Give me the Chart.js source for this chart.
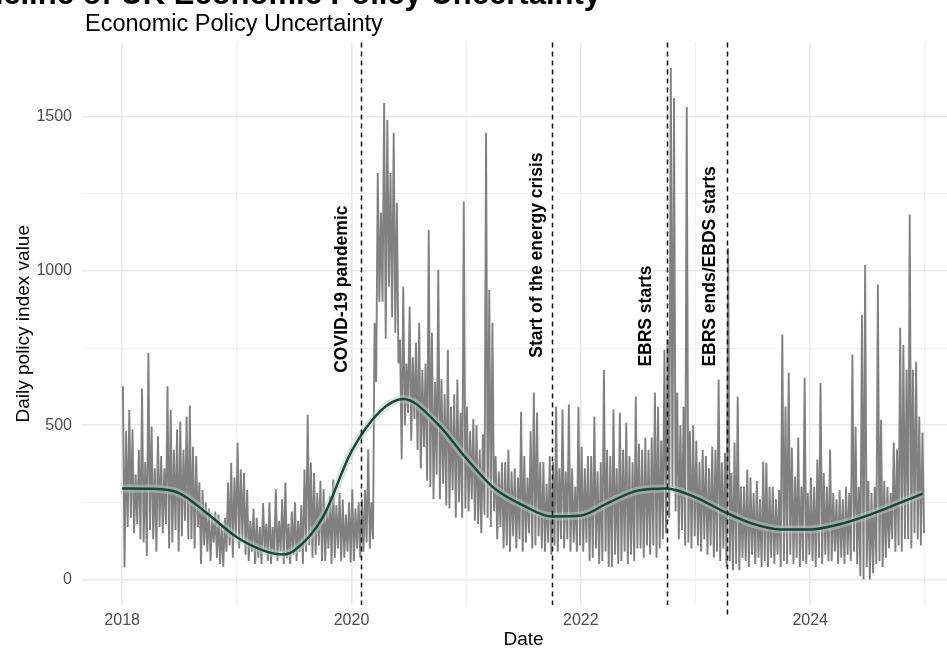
<!DOCTYPE html>
<html>
<head>
<meta charset="utf-8">
<script src="https://cdn.jsdelivr.net/npm/chart.js@4.4.1/dist/chart.umd.min.js"></script>
<style>
  html, body { margin: 0; padding: 0; background: #fff; overflow: hidden; width: 947px; height: 651px; }
  #wrap { position: absolute; left: 0; top: 0; width: 990px; height: 651px; }
</style>
</head>
<body>
<div id="wrap"><canvas id="epu" width="990" height="651"></canvas></div>
<script>
// Daily UK economic policy uncertainty index, six readings per month (about every five days)
const years = [2018, 2019, 2020, 2021, 2022, 2023, 2024];
const epu2018 = [
  626, 39, 480, 170, 550, 200,   486, 150, 340, 180, 420, 130,   619, 120, 380, 75, 735, 160,
  496, 130, 360, 90, 464, 170,   400, 150, 360, 180, 626, 100,   550, 120, 420, 160, 486, 90,
  512, 140, 420, 190, 528, 130,  564, 130, 430, 100, 400, 170,   314, 50, 290, 110, 250, 90,
  230, 60, 200, 120, 220, 70,    210, 50, 180, 40, 200, 90,      314, 110, 378, 70, 330, 140
];
const epu2019 = [
  444, 100, 356, 130, 346, 80,   290, 60, 190, 90, 230, 50,      200, 70, 170, 50, 248, 90,
  180, 60, 250, 50, 170, 80,     292, 60, 190, 90, 260, 50,      314, 70, 180, 50, 220, 80,
  250, 60, 190, 90, 240, 50,     356, 90, 534, 110, 379, 70,     346, 80, 280, 110, 320, 60,
  292, 60, 230, 100, 270, 50,    324, 70, 240, 100, 280, 60,     259, 70, 210, 90, 250, 55
];
const epu2020 = [
  292, 60, 230, 100, 250, 70,    260, 90, 290, 120, 421, 100,    250, 130, 832, 640, 1318, 900,
  1189, 900, 1545, 780, 1490, 950, 1318, 850, 1448, 800, 1221, 700, 777, 389, 949, 500, 700, 540,
  885, 450, 720, 520, 767, 420,  832, 360, 680, 430, 700, 320,   1134, 300, 800, 260, 640, 340,
  1004, 260, 650, 310, 600, 240, 745, 230, 560, 290, 600, 200,   648, 250, 540, 200, 1225, 230
];
const epu2021 = [
  560, 220, 480, 260, 520, 190,  500, 180, 420, 150, 470, 210,   1448, 200, 939, 170, 832, 220,
  400, 130, 350, 170, 380, 100,  380, 110, 420, 90, 350, 140,    360, 100, 330, 130, 544, 90,
  400, 120, 330, 150, 480, 100,  606, 110, 541, 140, 380, 100,   380, 90, 310, 120, 400, 80,
  380, 110, 561, 90, 360, 130,   551, 100, 350, 130, 567, 90,    360, 120, 300, 90, 560, 110
];
const epu2022 = [
  430, 90, 360, 120, 400, 60,    400, 70, 528, 100, 350, 50,     380, 60, 680, 90, 420, 40,
  400, 40, 551, 80, 360, 50,     541, 60, 420, 90, 508, 50,      400, 80, 380, 60, 593, 100,
  440, 100, 420, 70, 460, 110,   420, 80, 460, 110, 606, 70,     560, 100, 450, 130, 745, 150,
  777, 200, 1658, 300, 1561, 220, 606, 130, 500, 160, 560, 110,  1532, 120, 480, 100, 500, 140
];
const epu2023 = [
  450, 110, 380, 90, 420, 130,   400, 80, 360, 110, 430, 70,     420, 90, 648, 60, 380, 100,
  411, 40, 1075, 60, 346, 30,    444, 50, 593, 30, 300, 70,      300, 60, 356, 40, 330, 80,
  280, 50, 320, 70, 260, 40,     382, 60, 378, 40, 300, 70,      300, 50, 260, 80, 290, 40,
  794, 60, 561, 50, 670, 80,     427, 50, 334, 70, 460, 40,      300, 60, 654, 50, 280, 80
];
const epu2024 = [
  330, 60, 300, 40, 389, 70,     637, 50, 346, 80, 300, 60,      421, 60, 280, 90, 260, 50,
  290, 70, 260, 50, 300, 80,     280, 60, 729, 90, 496, 50,      300, 10, 858, 0, 1020, 40,
  320, 0, 280, 20, 300, 50,      956, 60, 518, 40, 320, 70,      300, 100, 280, 130, 444, 90,
  421, 110, 816, 90, 761, 130,   680, 130, 1183, 100, 680, 150,  706, 130, 528, 110, 476, 150
];

// Smoothed trend of the daily index
const smoothDates = [
  '2018-01-01', '2018-04-01', '2018-07-01', '2018-10-01', '2019-01-01', '2019-04-01', '2019-05-25',
  '2019-07-01', '2019-10-01', '2020-01-01', '2020-04-01', '2020-06-15', '2020-10-01', '2021-01-01',
  '2021-04-01', '2021-07-01', '2021-10-01', '2022-01-01', '2022-04-01', '2022-07-01', '2022-10-01',
  '2023-01-01', '2023-04-01', '2023-07-01', '2023-10-01', '2024-01-01', '2024-04-01', '2024-07-01',
  '2024-10-01', '2024-12-25'
];
const smoothValues = [
  295, 294, 280, 212, 137, 92, 81, 92, 200, 415, 545, 585, 505, 393,
  295, 240, 204, 207, 250, 288, 295, 266, 220, 181, 162, 162, 178, 207,
  243, 278
];

// Policy events marked on the timeline
const eventNames = ['COVID-19 pandemic', 'Start of the energy crisis', 'EBRS starts', 'EBRS ends/EBDS starts'];
const eventDates = ['2020-01-30', '2021-10-01', '2022-10-01', '2023-04-10'];

// Axis ticks
const gridYears = [2018, 2019, 2020, 2021, 2022, 2023, 2024, 2025];
const xTickLabels = [2018, 2020, 2022, 2024];
const gridValues = [0, 250, 500, 750, 1000, 1250, 1500];
const yTickLabels = [0, 500, 1000, 1500];

function toYear(s) {
  const d = new Date(s + 'T00:00:00Z');
  const y = d.getUTCFullYear();
  const start = Date.UTC(y, 0, 1), end = Date.UTC(y + 1, 0, 1);
  return y + (d.getTime() - start) / (end - start);
}

const FONT = "'Liberation Sans', Arial, Helvetica, sans-serif";
const yearSeries = [epu2018, epu2019, epu2020, epu2021, epu2022, epu2023, epu2024];
const daily = [];
yearSeries.forEach((vals, yi) => {
  vals.forEach((v, i) => daily.push({ x: years[yi] + (i + 0.5) / vals.length, y: v }));
});
const smooth = smoothDates.map((d, i) => ({ x: toYear(d), y: smoothValues[i] }));

const GRID_MAJOR = '#e9e9e9';
const GRID_MINOR = '#f1f1f1';

// Titles, event lines and their labels
const decorations = {
  id: 'decorations',
  afterDatasetsDraw(chart) {
    const { ctx, chartArea, scales: { x, y } } = chart;
    ctx.save();
    ctx.strokeStyle = '#111';
    ctx.lineWidth = 1.5;
    ctx.setLineDash([5, 4]);
    eventDates.forEach((d, i) => {
      const px = Math.round(x.getPixelForValue(toYear(d))) + 0.5;
      const bottom = i === eventDates.length - 1 ? chartArea.bottom + 10 : chartArea.bottom;
      ctx.beginPath();
      ctx.moveTo(px, chartArea.top);
      ctx.lineTo(px, bottom);
      ctx.stroke();
    });
    ctx.restore();

    // event labels, read bottom to top, left of each line
    const labelBase = [670, 719, 690, 690];
    const labelShift = [18, 15, 20, 16];
    ctx.save();
    ctx.fillStyle = '#000';
    ctx.font = 'bold 17.5px ' + FONT;
    ctx.textAlign = 'left';
    ctx.textBaseline = 'middle';
    eventDates.forEach((d, i) => {
      const px = x.getPixelForValue(toYear(d)) - labelShift[i];
      const py = y.getPixelForValue(labelBase[i]);
      ctx.save();
      ctx.translate(px, py);
      ctx.rotate(-Math.PI / 2);
      ctx.fillText(eventNames[i], 0, 0);
      ctx.restore();
    });
    ctx.restore();
  },
  afterDraw(chart) {
    const { ctx } = chart;
    ctx.save();
    ctx.fillStyle = '#000';
    ctx.textBaseline = 'alphabetic';
    ctx.font = 'bold 31px ' + FONT;
    ctx.textAlign = 'right';
    ctx.fillText('Timeline of UK Economic Policy Uncertainty', 601, 4);
    ctx.font = '23.5px ' + FONT;
    ctx.textAlign = 'left';
    ctx.fillText('Economic Policy Uncertainty', 85, 31);
    ctx.restore();
  }
};

new Chart(document.getElementById('epu'), {
  type: 'line',
  data: {
    datasets: [
      {
        label: 'Smoothed trend',
        data: smooth,
        borderColor: '#0e4b3b',
        borderWidth: 2.4,
        pointRadius: 0,
        cubicInterpolationMode: 'monotone',
        fill: false,
        order: 0
      },
      {
        label: 'Trend band',
        data: smooth,
        borderColor: 'rgba(200,200,200,0.5)',
        borderWidth: 8,
        pointRadius: 0,
        cubicInterpolationMode: 'monotone',
        fill: false,
        order: 1
      },
      {
        label: 'Daily policy index value',
        data: daily,
        borderColor: '#808080',
        borderWidth: 1.9,
        pointRadius: 0,
        tension: 0,
        fill: false,
        order: 2
      }
    ]
  },
  options: {
    responsive: false,
    animation: false,
    devicePixelRatio: 1,
    layout: { padding: { left: 0, right: 25, top: 42.5, bottom: 0 } },
    plugins: { legend: { display: false }, tooltip: { enabled: false } },
    scales: {
      x: {
        type: 'linear',
        min: 2017.65,
        max: 2025.35,
        afterBuildTicks: s => { s.ticks = gridYears.map(v => ({ value: v })); },
        afterFit: s => { s.height = 46; },
        border: { display: false },
        grid: {
          drawTicks: false,
          color: c => (c.tick && c.tick.value % 2 === 0) ? GRID_MAJOR : GRID_MINOR,
          lineWidth: c => (c.tick && c.tick.value % 2 === 0) ? 1.6 : 1.1
        },
        ticks: {
          autoSkip: false,
          maxRotation: 0,
          padding: 6,
          color: '#4d4d4d',
          font: { family: FONT, size: 16 },
          callback: v => xTickLabels.includes(v) ? String(v) : ''
        },
        title: {
          display: true,
          text: 'Date',
          color: '#000',
          font: { family: FONT, size: 19 },
          padding: { top: 0, bottom: 0 }
        }
      },
      y: {
        type: 'linear',
        min: -83,
        max: 1741,
        afterBuildTicks: s => { s.ticks = gridValues.map(v => ({ value: v })); },
        afterFit: s => { s.width = 82; },
        border: { display: false },
        grid: {
          drawTicks: false,
          color: c => (c.tick && c.tick.value % 500 === 0) ? GRID_MAJOR : GRID_MINOR,
          lineWidth: c => (c.tick && c.tick.value % 500 === 0) ? 1.6 : 1.1
        },
        ticks: {
          padding: 10,
          color: '#4d4d4d',
          font: { family: FONT, size: 16 },
          callback: v => yTickLabels.includes(v) ? String(v) : ''
        },
        title: {
          display: true,
          text: 'Daily policy index value',
          color: '#000',
          font: { family: FONT, size: 19 },
          padding: { top: 12, bottom: 0 }
        }
      }
    }
  },
  plugins: [decorations]
});
</script>
</body>
</html>
